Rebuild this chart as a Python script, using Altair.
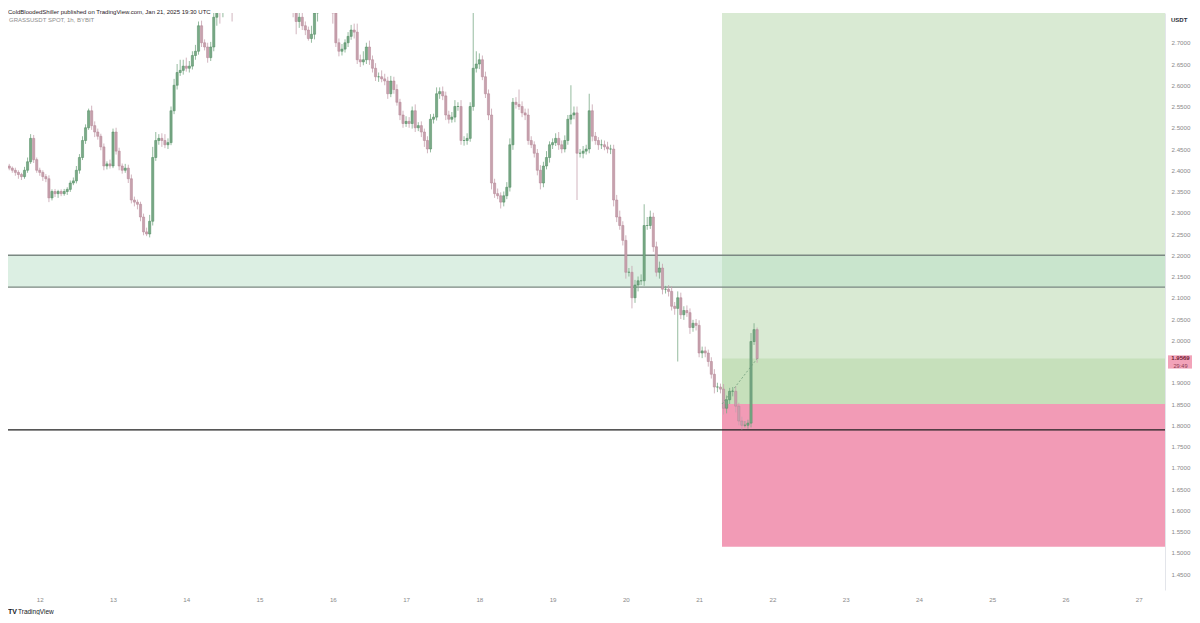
import altair as alt
import pandas as pd

# GRASSUSDT spot, 1h candles on Bybit, 2025-01-11 14:00 UTC .. 2025-01-21 19:00 UTC
FIRST_OPEN = 2.410
closes = [
    2.405, 2.400, 2.395, 2.390, 2.385, 2.400, 2.420, 2.475, 2.425, 2.400, 2.395, 2.385,
    2.380, 2.335, 2.350, 2.345, 2.350, 2.345, 2.350, 2.355, 2.370, 2.375, 2.400, 2.430,
    2.470, 2.500, 2.540, 2.505, 2.490, 2.480, 2.455, 2.410, 2.415, 2.410, 2.490, 2.445,
    2.410, 2.400, 2.405, 2.380, 2.330, 2.325, 2.320, 2.290, 2.255, 2.250, 2.280, 2.430,
    2.470, 2.475, 2.470, 2.460, 2.465, 2.540, 2.600, 2.630, 2.635, 2.645, 2.640, 2.645,
    2.670, 2.680, 2.740, 2.700, 2.690, 2.665, 2.690, 2.760, 2.790, 2.780, 2.820, 2.850,
    2.800, 2.790, 2.830, 2.860, 2.880, 2.900, 2.870, 2.910, 2.940, 2.920, 2.890, 2.930,
    2.910, 2.880, 2.900, 2.870, 2.850, 2.860, 2.830, 2.840, 2.800, 2.780, 2.750, 2.760,
    2.740, 2.730, 2.710, 2.720, 2.770, 2.800, 2.830, 2.810, 2.790, 2.800, 2.770, 2.700,
    2.680, 2.685, 2.700, 2.715, 2.730, 2.725, 2.660, 2.655, 2.660, 2.690, 2.660, 2.640,
    2.620, 2.620, 2.615, 2.610, 2.580, 2.610, 2.590, 2.560, 2.530, 2.510, 2.515, 2.510,
    2.540, 2.500, 2.505, 2.490, 2.470, 2.450, 2.520, 2.525, 2.580, 2.585, 2.575, 2.530,
    2.520, 2.525, 2.550, 2.550, 2.470, 2.470, 2.475, 2.550, 2.640, 2.650, 2.660, 2.620,
    2.580, 2.530, 2.370, 2.345, 2.340, 2.325, 2.340, 2.360, 2.460, 2.560, 2.555, 2.550,
    2.535, 2.530, 2.470, 2.460, 2.440, 2.400, 2.370, 2.410, 2.430, 2.460, 2.465, 2.475,
    2.460, 2.450, 2.470, 2.520, 2.530, 2.535, 2.440, 2.440, 2.445, 2.450, 2.540, 2.480,
    2.470, 2.460, 2.460, 2.455, 2.450, 2.450, 2.330, 2.290, 2.270, 2.235, 2.160, 2.160,
    2.100, 2.130, 2.140, 2.140, 2.270, 2.270, 2.290, 2.220, 2.160, 2.170, 2.120, 2.120,
    2.115, 2.080, 2.075, 2.100, 2.060, 2.070, 2.065, 2.030, 2.040, 2.035, 1.970, 1.975,
    1.970, 1.950, 1.920, 1.890, 1.890, 1.885, 1.840, 1.860, 1.880, 1.880, 1.845, 1.810,
    1.800, 1.800, 1.805, 1.997, 2.025, 1.957,
]
# wick lengths beyond the body, in 0.001 USDT
upper_wick = [
    5, 4, 6, 5, 4, 8, 10, 10, 8, 5, 6, 5,
    6, 8, 5, 6, 4, 5, 6, 5, 6, 8, 10, 8,
    10, 8, 5, 12, 10, 8, 6, 8, 6, 10, 8, 10,
    8, 6, 10, 8, 10, 8, 6, 6, 8, 10, 15, 25,
    20, 10, 12, 15, 10, 10, 15, 20, 25, 15, 20, 12,
    10, 15, 10, 12, 8, 10, 12, 20, 20, 20, 20, 20,
    20, 20, 20, 20, 20, 20, 20, 20, 20, 20, 20, 20,
    20, 20, 20, 20, 20, 20, 20, 20, 20, 20, 15, 20,
    10, 10, 8, 20, 20, 20, 20, 20, 20, 20, 15, 20,
    10, 12, 8, 10, 12, 15, 20, 12, 20, 10, 15, 10,
    12, 10, 15, 12, 10, 12, 10, 12, 8, 10, 12, 10,
    10, 15, 8, 10, 8, 10, 12, 8, 15, 10, 12, 10,
    10, 12, 15, 10, 15, 10, 12, 10, 130, 30, 15, 10,
    12, 10, 15, 10, 12, 8, 10, 12, 15, 10, 12, 35,
    12, 10, 15, 10, 8, 10, 12, 10, 15, 8, 10, 12,
    15, 10, 12, 10, 70, 15, 15, 10, 12, 10, 40, 15,
    10, 8, 12, 10, 12, 10, 10, 12, 15, 10, 12, 10,
    15, 12, 10, 15, 50, 20, 15, 10, 12, 15, 10, 8,
    10, 12, 10, 15, 12, 10, 12, 10, 8, 10, 12, 10,
    10, 8, 10, 12, 10, 8, 12, 10, 8, 10, 12, 8,
    10, 10, 8, 20, 15, 5,
]
lower_wick = [
    5, 6, 8, 10, 8, 5, 6, 5, 8, 6, 8, 10,
    8, 10, 6, 8, 10, 6, 5, 8, 6, 5, 6, 8,
    6, 8, 5, 10, 12, 8, 8, 10, 8, 6, 5, 8,
    10, 8, 6, 10, 8, 10, 12, 10, 8, 5, 8, 10,
    8, 10, 15, 8, 10, 6, 8, 10, 8, 10, 8, 10,
    8, 10, 8, 10, 8, 12, 8, 10, 20, 35, 20, 20,
    20, 40, 20, 20, 20, 20, 20, 20, 20, 20, 20, 20,
    20, 20, 20, 20, 20, 20, 20, 20, 20, 20, 30, 15,
    10, 12, 5, 10, 12, 20, 20, 20, 20, 20, 25, 10,
    12, 10, 8, 10, 8, 15, 10, 12, 8, 10, 12, 10,
    10, 12, 8, 10, 12, 8, 10, 8, 12, 10, 8, 10,
    12, 10, 8, 12, 15, 10, 8, 10, 8, 12, 10, 12,
    10, 8, 12, 10, 10, 12, 10, 8, 10, 10, 12, 8,
    10, 12, 15, 10, 8, 15, 10, 8, 10, 12, 10, 8,
    10, 12, 10, 8, 10, 12, 15, 10, 8, 12, 10, 8,
    12, 10, 8, 10, 12, 10, 110, 10, 12, 8, 10, 12,
    10, 12, 10, 8, 10, 12, 15, 12, 10, 12, 15, 10,
    25, 12, 15, 10, 12, 10, 8, 12, 10, 15, 12, 10,
    12, 10, 15, 125, 10, 12, 10, 15, 10, 12, 10, 12,
    10, 12, 10, 15, 12, 10, 15, 12, 10, 12, 15, 10,
    10, 5, 8, 10, 8, 10,
]

# long-position tool and drawn levels
BOX_START = 21.3125          # Jan 21, 07:30
BOX_END = 28.0
ENTRY = 1.850
STOP = 1.5142
TARGET = 2.850
LAST_PRICE = 1.9569
COUNTDOWN = "29:49"
ZONE_LO, ZONE_HI = 2.125, 2.200
SUPPORT = 1.789
# 1.9500 sits under the live-price tag, so it is not drawn
Y_TICKS = [1.45, 1.50, 1.55, 1.60, 1.65, 1.70, 1.75, 1.80, 1.85, 1.90, 2.00, 2.05,
           2.10, 2.15, 2.20, 2.25, 2.30, 2.35, 2.40, 2.45, 2.50, 2.55, 2.60, 2.65, 2.70]
X_DAYS = list(range(12, 28))

_FONT = "Liberation Sans"
_DIRS = ["up", "down"]

assert len(closes) == len(upper_wick) == len(lower_wick)

times = pd.date_range("2025-01-11 14:00", periods=len(closes), freq="h")
opens = [FIRST_OPEN] + closes[:-1]
candles = pd.DataFrame({
    "day": times.day + times.hour / 24,
    "open": opens,
    "close": closes,
    "high": [max(o, c) + u / 1000 for o, c, u in zip(opens, closes, upper_wick)],
    "low": [min(o, c) - w / 1000 for o, c, w in zip(opens, closes, lower_wick)],
})
candles["dir"] = ["up" if c >= o else "down" for o, c in zip(opens, closes)]
last_day = candles["day"].iloc[-1]

xs = alt.Scale(domain=[11.6346, 27.291], nice=False, zero=False)
ys = alt.Scale(domain=[1.4124, 2.770], nice=False, zero=False)
x_axis = alt.Axis(values=X_DAYS, format="d", title=None, grid=False, domain=False,
                  ticks=False, labelColor="#8a8a8a", labelFontSize=6.2, labelFont=_FONT,
                  labelPadding=6, labelFlush=False)
y_axis = alt.Axis(orient="right", values=Y_TICKS, format=".4f", title=None, grid=False,
                  domain=True, domainColor="#e3e5ea", ticks=False, labelColor="#8a8a8a",
                  labelFontSize=6.2, labelFont=_FONT, labelPadding=6, labelOverlap=False)


def X(field):
    return alt.X(field, type="quantitative", scale=xs, axis=x_axis)


def Y(field):
    return alt.Y(field, type="quantitative", scale=ys, axis=y_axis)


box = pd.DataFrame({"start": [BOX_START], "end": [BOX_END], "entry": [ENTRY],
                    "stop": [STOP], "target": [TARGET], "last": [LAST_PRICE]})
profit = alt.Chart(box).mark_rect(clip=True, color="#d9ead3").encode(
    x=X("start"), x2="end", y=Y("entry"), y2="target")
active = alt.Chart(box).mark_rect(clip=True, color="#c6e0bb").encode(
    x=X("start"), x2="end", y=Y("entry"), y2="last")
loss = alt.Chart(box).mark_rect(clip=True, color="#f29bb6").encode(
    x=X("start"), x2="end", y=Y("stop"), y2="entry")

band = alt.Chart(pd.DataFrame({"x0": [11.0], "x1": [28.0], "lo": [ZONE_LO], "hi": [ZONE_HI]})) \
    .mark_rect(clip=True, color="#b9dfc7", opacity=0.5) \
    .encode(x=X("x0"), x2="x1", y=Y("lo"), y2="hi")

zone_lines = alt.Chart(pd.DataFrame({"price": [ZONE_LO, ZONE_HI]})) \
    .mark_rule(color="#7b8882", strokeWidth=1.4).encode(y=Y("price"))
support_line = alt.Chart(pd.DataFrame({"price": [SUPPORT]})) \
    .mark_rule(color="#1f1f1f", strokeWidth=1.3).encode(y=Y("price"))

wick_color = alt.Color("dir:N", scale=alt.Scale(domain=_DIRS, range=["#7aa987", "#c7a2ae"]),
                       legend=None)
body_fill = alt.Color("dir:N", scale=alt.Scale(domain=_DIRS, range=["#5c9e6f", "#de9cb1"]),
                      legend=None)
body_edge = alt.Stroke("dir:N", scale=alt.Scale(domain=_DIRS, range=["#4d8a5e", "#b58595"]),
                       legend=None)
wicks = alt.Chart(candles).mark_rule(clip=True, strokeWidth=0.8).encode(
    x=X("day"), y=Y("low"), y2="high", color=wick_color)
bodies = alt.Chart(candles).mark_bar(clip=True, size=2.2, strokeWidth=0.5).encode(
    x=X("day"), y=Y("open"), y2="close", color=body_fill, stroke=body_edge)

path = alt.Chart(pd.DataFrame({"day": [BOX_START, last_day], "price": [ENTRY, LAST_PRICE]})) \
    .mark_line(color="#6f9d7b", strokeWidth=0.8, strokeDash=[2, 2]).encode(x=X("day"), y=Y("price"))

tag_df = pd.DataFrame({"price": [LAST_PRICE], "label": [f"{LAST_PRICE:.4f}"], "timer": [COUNTDOWN]})
tag_box = alt.Chart(tag_df).mark_point(shape="M-1,-0.26H1V0.8H-1Z", size=625, filled=True,
                                       opacity=1, color="#f2a3b9").encode(
    x=alt.value(1172.5), y=Y("price"))
tag_price = alt.Chart(tag_df).mark_text(font=_FONT, fontSize=6, color="#6d1933", dy=-0.5,
                                        fontWeight="bold").encode(
    x=alt.value(1172.5), y=Y("price"), text="label:N")
tag_timer = alt.Chart(tag_df).mark_text(font=_FONT, fontSize=5.6, color="#8e3e57", dy=7).encode(
    x=alt.value(1172.5), y=Y("price"), text="timer:N")


def note(text, x, y, **kw):
    return alt.Chart(pd.DataFrame({"t": [text]})).mark_text(
        align="left", baseline="middle", font=_FONT, **kw).encode(
        x=alt.value(x), y=alt.value(y), text="t:N")


header = note("ColdBloodedShiller published on TradingView.com, Jan 21, 2025 19:30 UTC",
              0, -1.5, fontSize=6, color="#1f2124", fontWeight=500)
symbol = note("GRASSUSDT SPOT, 1h, BYBIT", 1, 7, fontSize=6, color="#8d8d8d")
unit = note("USDT", 1163, 7, fontSize=6, color="#2a2e39", fontWeight="bold")
logo = note("TV", 0, 598.5, fontSize=7, color="#131722", fontWeight=900)
brand = note("TradingView", 10, 598.5, fontSize=6.5, color="#131722")

chart = alt.layer(
    profit, active, loss, band, zone_lines, support_line, wicks, bodies, path,
    tag_box, tag_price, tag_timer, header, symbol, unit, logo, brand,
).properties(
    width=1157, height=577,
    autosize=alt.AutoSizeParams(type="none"),
    padding={"left": 0, "top": 5, "right": 27, "bottom": 25},
    background="white",
).configure_view(stroke=None)

chart.save("out.html", embed_options={"renderer": "svg", "actions": False})
